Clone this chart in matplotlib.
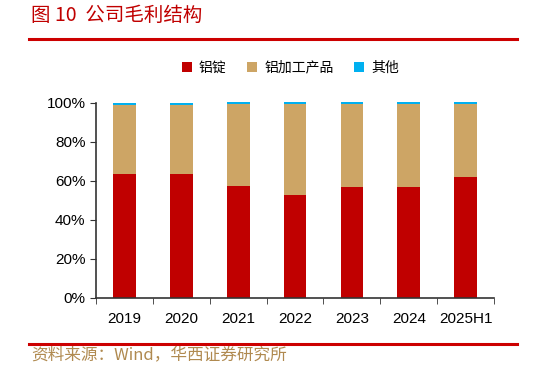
import matplotlib
matplotlib.use("Agg")
import matplotlib.pyplot as plt
from matplotlib.ticker import FixedLocator, PercentFormatter
import numpy as np

plt.rcParams['font.family'] = ['Liberation Sans', 'Noto Sans CJK SC', 'DejaVu Sans']

categories = ['2019', '2020', '2021', '2022', '2023', '2024', '2025H1']
series_names = ['铝锭', '铝加工产品', '其他']
ingot = [63.6, 63.6, 57.4, 52.8, 56.6, 56.6, 62.0]
processed = [35.4, 35.4, 42.2, 46.8, 43.0, 43.0, 37.6]
other = [1.0, 1.0, 0.8, 0.8, 0.8, 0.8, 0.8]
colors = ['#C00000', '#CDA565', '#00B0F0']

fig = plt.figure(figsize=(5.33, 3.70), dpi=100)
ax = fig.add_axes([0.180, 0.195, 0.747, 0.527])

x = np.arange(len(categories))
w = 0.4
bottom = np.zeros(len(categories))
for name, vals, c in zip(series_names, [ingot, processed, other], colors):
    ax.bar(x, vals, w, bottom=bottom, color=c, label=name, zorder=2, clip_on=False)
    bottom += np.array(vals)

ax.set_xlim(-0.5, len(categories) - 0.5)
ax.set_ylim(0, 100)
ax.set_yticks([0, 20, 40, 60, 80, 100])
ax.yaxis.set_major_formatter(PercentFormatter(decimals=0))
ax.set_xticks(x)
ax.set_xticklabels(categories)
ax.tick_params(axis='x', which='major', length=0, pad=10, labelsize=11)
ax.xaxis.set_minor_locator(FixedLocator(np.arange(-0.5, len(categories), 1.0)))
ax.tick_params(axis='x', which='minor', length=4, direction='out', color='#333333')
ax.tick_params(axis='y', length=4, direction='out', labelsize=11, color='#333333')
for s in ['top', 'right']:
    ax.spines[s].set_visible(False)
for s in ['left', 'bottom']:
    ax.spines[s].set_color('#333333')
    ax.spines[s].set_linewidth(1.2)

leg = fig.legend(loc='center', bbox_to_anchor=(0.545, 0.817), ncol=3, frameon=False,
                 prop={'family': ['Noto Sans CJK SC'], 'size': 10},
                 handlelength=0.7, handleheight=0.7, handletextpad=0.5, columnspacing=1.5)

# title and decorations
fig.text(0.058, 0.958, '图 10  公司毛利结构', color='#C00000', fontsize=14,
         family=['Noto Sans CJK SC'], va='center', ha='left')
fig.add_artist(plt.Line2D([0.054, 0.97], [0.894, 0.894], color='#CC0000', lw=2.2, transform=fig.transFigure))
fig.add_artist(plt.Line2D([0.054, 0.97], [0.07, 0.07], color='#CC0000', lw=2.2, transform=fig.transFigure))
fig.text(0.058, 0.04, '资料来源：Wind，华西证券研究所', color='#B08A50', fontsize=12,
         family=['Noto Sans CJK SC'], va='center', ha='left')

fig.savefig('out.png', dpi=100)
